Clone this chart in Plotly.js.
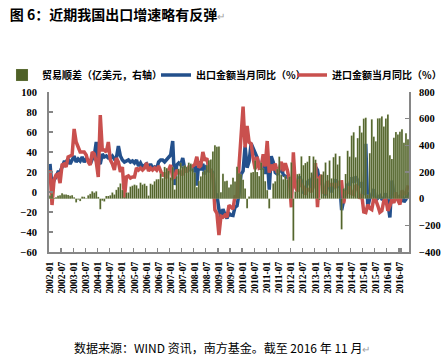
<!DOCTYPE html>
<html><head><meta charset="utf-8">
<script src="https://cdn.plot.ly/plotly-3.0.1.min.js"></script>
<style>html,body{margin:0;padding:0;background:#fff;}#chart{width:444px;height:358px;}</style>
</head><body><div id="chart"></div>
<script>
// Months 2002-01 .. 2016-11
const years = [2002,2003,2004,2005,2006,2007,2008,2009,2010,2011,2012,2013,2014,2015,2016];
const monthCodes = ['01','02','03','04','05','06','07','08','09','10','11','12'];
const lastPeriod = '2016-11';
const categories = [];
outer: for (const y of years) { for (const m of monthCodes) { categories.push(y + '-' + m); if (y + '-' + m === lastPeriod) break outer; } }

const tickLabels = ['2002-01','2002-07','2003-01','2003-07','2004-01','2004-07','2005-01','2005-07',
  '2006-01','2006-07','2007-01','2007-07','2008-01','2008-07','2009-01','2009-07','2010-01','2010-07',
  '2011-01','2011-07','2012-01','2012-07','2013-01','2013-07','2014-01','2014-07','2015-01','2015-07',
  '2016-01','2016-07'];

// 贸易顺差（亿美元）
const tradeBalance = [
  23, 38, 5, 11, 22, 26, 41, 32, 31, 28, 21, 26,
  10, -28, -7, -18, 15, 14, 3, 25, 36, 55, 45, 55,
  13, -79, -15, -21, 20, 20, 25, 46, 31, 66, 86, 114,
  65, 10, 46, 46, 90, 97, 105, 100, 76, 120, 105, 112,
  96, 23, 112, 105, 130, 145, 146, 188, 153, 238, 229, 210,
  159, 238, 68, 168, 224, 269, 243, 250, 239, 270, 263, 227,
  195, 86, 134, 167, 202, 214, 252, 288, 293, 353, 401, 390,
  391, 48, 186, 131, 134, 83, 106, 157, 129, 240, 191, 184,
  142, 76, -72, 17, 195, 200, 287, 200, 169, 271, 229, 131,
  64, -73, 1, 114, 130, 222, 315, 179, 145, 170, 145, 165,
  272, -315, 53, 184, 187, 317, 251, 267, 277, 320, 196, 316,
  292, 153, -9, 181, 204, 271, 178, 286, 152, 311, 338, 256,
  319, -230, 77, 185, 359, 315, 473, 498, 310, 454, 546, 496,
  600, 607, 30, 341, 595, 465, 430, 602, 603, 617, 541, 601,
  632, 326, 298, 456, 500, 481, 502, 521, 420, 490, 446
];

// 出口金额当月同比（%）
const exportYoY = [
  28, 5, 12, 15, 20, 20, 25, 30, 30, 33, 28, 32,
  36, 30, 33, 31, 35, 30, 33, 32, 28, 33, 36, 50,
  30, 28, 38, 35, 36, 34, 34, 36, 33, 34, 46, 36,
  32, 30, 31, 32, 30, 31, 29, 32, 26, 29, 25, 27,
  28, 23, 28, 24, 25, 23, 30, 32, 32, 30, 32, 34,
  37, 51, 7, 27, 29, 27, 34, 23, 23, 22, 23, 22,
  26.6, 6.5, 30.6, 21.8, 28.1, 17.6, 26.9, 21.1, 21.5, 19.2, -2.2, -2.8,
  -17.5, -25.7, -17.1, -22.6, -26.4, -21.4, -23, -23.4, -15.2, -13.8, -1.2, 17.7,
  21, 45.7, 24.3, 30.5, 48.5, 43.9, 38.1, 34.4, 25.1, 22.9, 34.9, 17.9,
  37.7, 2.3, 35.8, 29.9, 19.4, 17.9, 20.4, 24.5, 17.1, 15.9, 13.8, 13.4,
  -0.5, 18.4, 8.9, 4.9, 15.3, 11.3, 1.0, 2.7, 9.9, 11.6, 2.9, 14.1,
  25, 21.8, 10, 14.7, 1, -3.1, 5.1, 7.2, -0.3, 5.6, 12.7, 4.3,
  10.6, -18.1, -6.6, 0.9, 7, 7.2, 14.5, 9.4, 15.3, 11.6, 4.7, 9.7,
  -3.3, 48.3, -15, -6.4, -2.5, 2.8, -8.3, -5.5, -3.7, -6.9, -6.8, -1.4,
  -11.2, -25.4, 11.5, -1.8, -4.1, -4.8, -4.4, -2.8, -10, -7.3, 0.1
];

// 进口金额当月同比（%）
const importYoY = [
  22, -13, 12, 17, 18, 9, 27, 28, 25, 35, 36, 37,
  63, 50, 45, 40, 40, 40, 37, 30, 27, 40, 38, 30,
  15, 77, 42, 42, 40, 50, 32, 28, 22, 34, 30, 20,
  25, -6, 15, 16, 14, 15, 15, 24, 22, 24, 22, 24,
  29, 21, 24, 22, 24, 22, 26, 20, 16, 19, 14, 22,
  27, 14, 15, 22, 19, 20, 17, 23, 20, 25, 25, 26,
  27.6, 35.2, 24.6, 26.4, 40, 31.5, 33.7, 23.1, 21.3, 15.6, -17.9, -21.3,
  -43.1, -24.1, -25.1, -23, -25.2, -13.2, -14.9, -17, -3.5, -6.4, 26.7, 55.9,
  85.5, 44.7, 66, 49.7, 48.3, 34.1, 22.7, 35.2, 24.1, 25.3, 37.7, 25.6,
  51, 19.4, 27.3, 21.8, 28.4, 19.3, 23, 30.2, 20.9, 28.7, 22.1, 11.8,
  -15.3, 39.6, 5.3, 0.3, 12.7, 6.3, 4.7, -2.6, 2.4, 2.4, 0, 6,
  28.8, -15.2, 14.1, 16.8, -0.3, -0.7, 10.9, 7, 7.4, 7.6, 5.3, 8.3,
  10, 10.1, -11.3, 0.8, -1.6, 5.5, -1.6, -2.4, 7, 4.6, -6.7, -2.4,
  -19.9, -20.5, -12.7, -16.2, -17.6, -6.1, -8.1, -13.8, -20.4, -18.8, -8.7, -7.6,
  -18.8, -13.8, -7.6, -10.9, -0.4, -8.4, -12.5, 1.5, -1.9, -1.4, 6.7
];

const seriesNames = ['贸易顺差（亿美元，右轴）', '出口金额当月同比（%）', '进口金额当月同比（%）'];

const cjk = '"Noto Sans CJK SC", "Noto Sans", sans-serif';
const serif = '"Liberation Serif", "DejaVu Serif", serif';
const axisGray = '#868686';

const traces = [
  { type: 'bar', x: categories, y: tradeBalance, name: seriesNames[0], yaxis: 'y2', legend: 'legend',
    marker: { color: '#4f6127', line: { color: 'rgba(225,232,205,0.55)', width: 0.3 } } },
  { type: 'scatter', mode: 'lines', x: categories, y: exportYoY, name: seriesNames[1], legend: 'legend2',
    line: { color: '#23508c', width: 3.5 } },
  { type: 'scatter', mode: 'lines', x: categories, y: importYoY, name: seriesNames[2], legend: 'legend3',
    line: { color: '#c9504e', width: 3.5 } }
];

const legendFont = { family: cjk, size: 10, color: '#000', weight: 'bold' };
function legendAt(px) {
  return { orientation: 'h', xref: 'container', yref: 'container', x: px / 444, xanchor: 'left',
    y: 1 - 75 / 358, yanchor: 'middle', font: legendFont, bgcolor: 'rgba(0,0,0,0)', itemwidth: 30 };
}

const layout = {
  width: 444, height: 358,
  margin: { l: 49, r: 35, t: 92, b: 106, pad: 0, autoexpand: false },
  paper_bgcolor: '#ffffff', plot_bgcolor: '#ffffff',
  bargap: 0.12,
  showlegend: true,
  hovermode: false,
  title: { text: '图 6：近期我国出口增速略有反弹<span style="color:#a0a0a0;font-weight:normal;font-size:10px">↵</span>',
    font: { family: cjk, size: 14, color: '#000', weight: 'bold' },
    xref: 'container', yref: 'container', x: 0.022, xanchor: 'left', y: 0.958, yanchor: 'middle' },
  legend: legendAt(2),
  legend2: legendAt(156),
  legend3: legendAt(292),
  xaxis: {
    type: 'category', range: [-0.5, categories.length - 0.5],
    tickmode: 'array', tickvals: tickLabels, ticktext: tickLabels,
    tickangle: -90, tickson: 'boundaries', ticks: 'inside', ticklen: 4, tickwidth: 1.2, tickcolor: axisGray,
    showline: true, linecolor: axisGray, linewidth: 2, showgrid: false, zeroline: false,
    tickfont: { family: serif, size: 9.5, color: '#000', weight: 'bold' }, ticklabelstandoff: 4
  },
  yaxis: {
    range: [-60, 100], tickmode: 'array', tickvals: [-60,-40,-20,0,20,40,60,80,100],
    ticks: 'inside', ticklen: 4, tickwidth: 1.2, tickcolor: axisGray,
    showline: true, linecolor: axisGray, linewidth: 2, showgrid: false, zeroline: false,
    tickfont: { family: serif, size: 10.5, color: '#000', weight: 'bold' }, ticklabelstandoff: 8
  },
  yaxis2: {
    range: [-400, 800], overlaying: 'y', side: 'right', tickmode: 'array',
    tickvals: [-400,-200,0,200,400,600,800],
    ticks: 'inside', ticklen: 4, tickwidth: 1.2, tickcolor: axisGray,
    showline: true, linecolor: axisGray, linewidth: 2, showgrid: false, zeroline: false,
    tickfont: { family: serif, size: 10.5, color: '#000', weight: 'bold' }, ticklabelstandoff: 6
  },
  annotations: [
    { text: '数据来源：WIND 资讯，南方基金。截至 2016 年 11 月<span style="color:#a0a0a0;font-size:10px">↵</span>',
      xref: 'paper', yref: 'paper', x: 0.48, y: -0.594, xanchor: 'center', yanchor: 'middle',
      showarrow: false, font: { family: cjk, size: 12, color: '#000' } }
  ]
};

Plotly.newPlot('chart', traces, layout, { staticPlot: true, displayModeBar: false });
</script></body></html>
